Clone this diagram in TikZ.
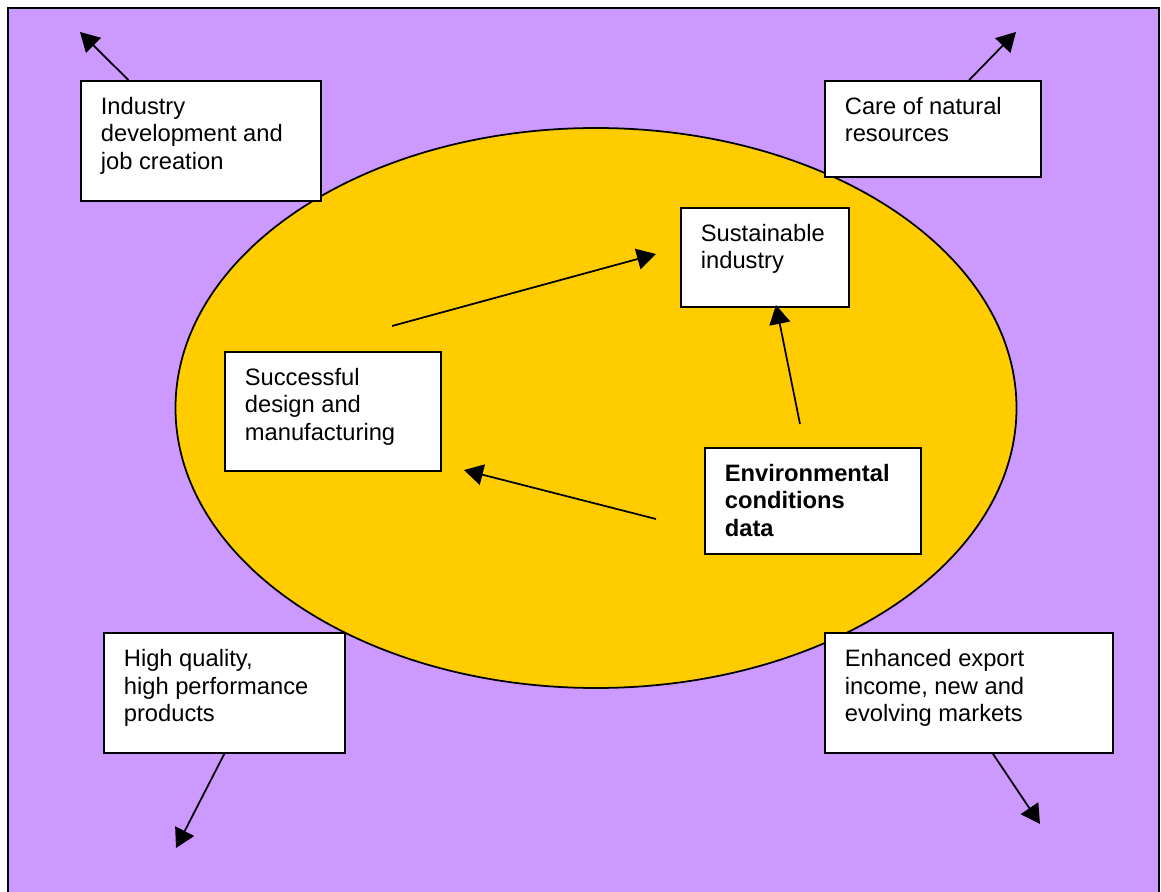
\documentclass[tikz,border=0pt]{standalone}
\usepackage{fontspec}
\setmainfont{Liberation Sans}
\usetikzlibrary{arrows.meta, calc}

\definecolor{bgpurple}{HTML}{CC99FF}
\definecolor{gold}{HTML}{FFCC00}

% text set at the top left of a box
\newcommand{\boxlines}[3]{\parbox[t][#2][t]{#1}{\raggedright #3}}

\begin{document}
\begin{tikzpicture}[
    x=0.02cm, y=-0.02cm,
    font=\fontsize{13.5pt}{15.9pt}\selectfont,
    infobox/.style={draw, fill=white, line width=1pt, anchor=north west, inner xsep=0.4cm, inner ysep=0.32cm},
    link/.style={-{Triangle[length=0.38cm, width=0.42cm]}, line width=1pt}
]
    \useasboundingbox (0,0) rectangle (1161,892);

    % Background
    \fill[bgpurple] (8,8) rectangle (1159,910);
    \draw[line width=1.1pt] (8,910) -- (8,8) -- (1159,8) -- (1159,910);
    \draw[fill=gold, line width=1pt] (596,408) ellipse [x radius=420.5, y radius=280];

    % Nodes
    \node[infobox] (ind) at (80,80) {\boxlines{4cm}{1.76cm}{Industry\\development and\\job creation}};
    \node[infobox] (care) at (824,80) {\boxlines{3.52cm}{1.28cm}{Care of natural\\resources}};
    \node[infobox] (sust) at (680,207) {\boxlines{2.56cm}{1.34cm}{Sustainable\\industry}};
    \node[infobox] (succ) at (224,351) {\boxlines{3.52cm}{1.74cm}{Successful\\design and\\manufacturing}};
    \node[infobox] (env) at (704,447) {\boxlines{3.52cm}{1.48cm}{\bfseries Environmental\\conditions\\data}};
    \node[infobox] (hq) at (103,632) {\boxlines{4.02cm}{1.76cm}{High quality,\\high performance\\products}};
    \node[infobox] (exp) at (824,632) {\boxlines{4.96cm}{1.76cm}{Enhanced export\\income, new and\\evolving markets}};

    % Free ends
    \coordinate (indtip) at (80,32);
    \coordinate (caretip) at (1016,32);
    \coordinate (hqtip) at (176,848);
    \coordinate (exptip) at (1040,824);
    \coordinate (succout) at (392,326);
    \coordinate (sustin) at (656,254);
    \coordinate (envup) at (800,424);
    \coordinate (sustbot) at (776,305);
    \coordinate (envleft) at (656,519);
    \coordinate (succin) at (464,470);

    % Arrows - outwards
    \draw[link] ($(ind.north west)!0.2!(ind.north east)$) -- (indtip);
    \draw[link] ($(care.north west)!0.667!(care.north east)$) -- (caretip);
    \draw[link] (hq.south) -- (hqtip);
    \draw[link] ($(exp.south west)!0.583!(exp.south east)$) -- (exptip);

    % Arrows - inside the ellipse
    \draw[link] (succout) -- (sustin);
    \draw[link] (envup) -- (sustbot);
    \draw[link] (envleft) -- (succin);
\end{tikzpicture}
\end{document}
